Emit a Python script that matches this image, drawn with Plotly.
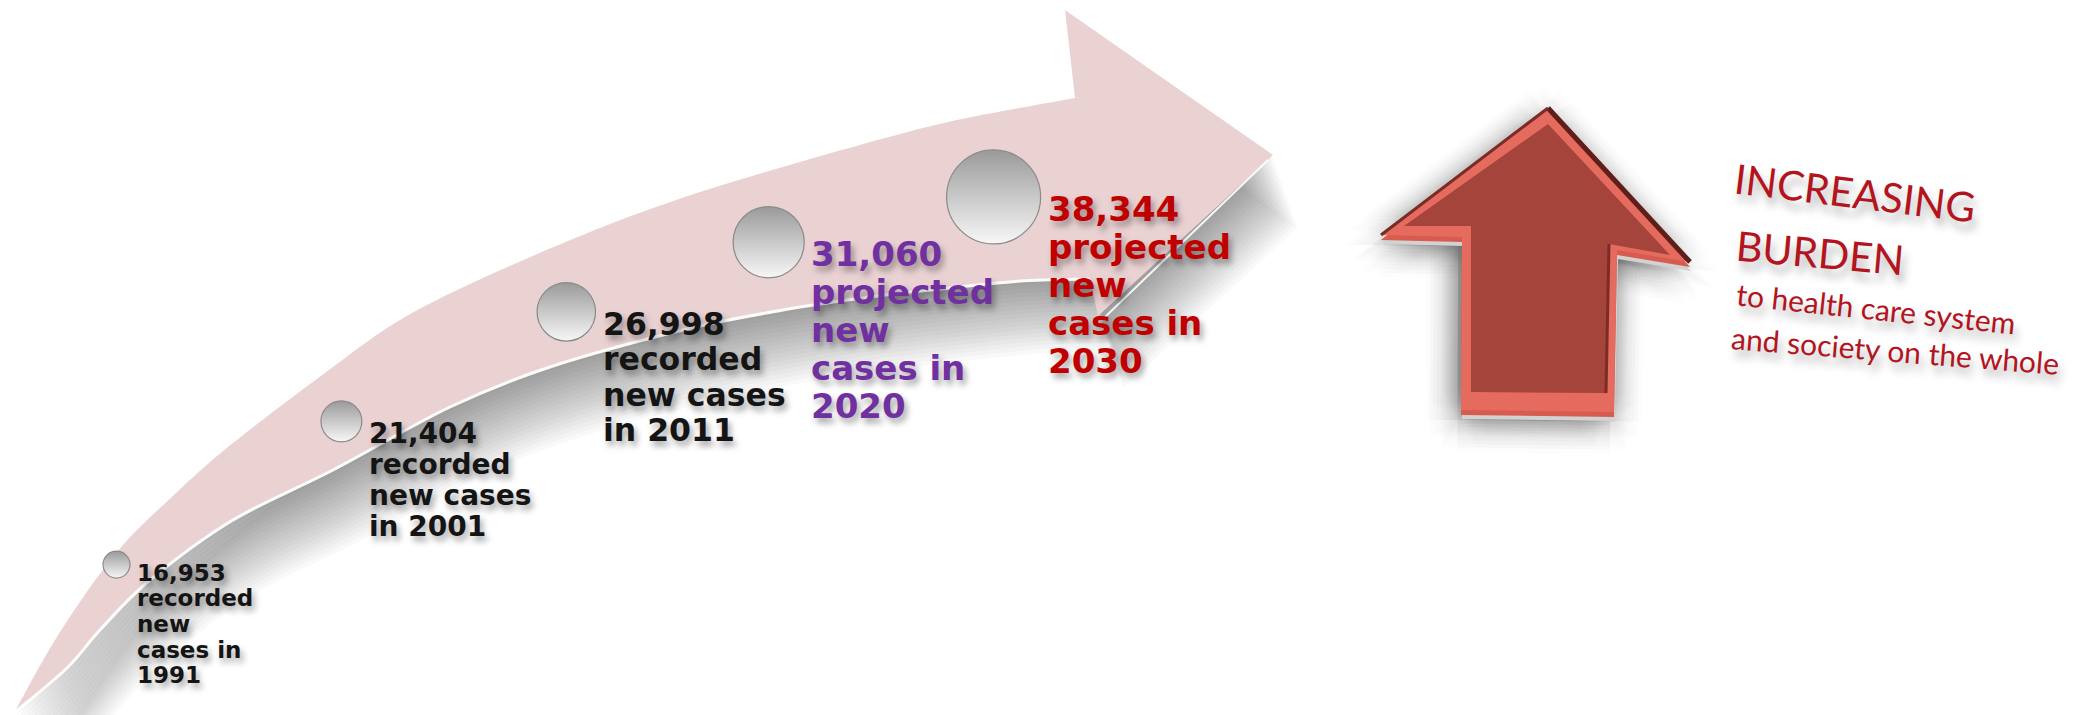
import math
import plotly.graph_objects as go

W, H = 2085, 715

# ---------------- data ----------------
years = [1991, 2001, 2011, 2020, 2030]
new_cases = [16953, 21404, 26998, 31060, 38344]
status = ["recorded", "recorded", "recorded", "projected", "projected"]
burden_title = ["INCREASING", "BURDEN"]
burden_lines = ["to health care system", "and society on the whole"]

# ---------------- style / layout ----------------
label_colors = ["#141414", "#141414", "#141414", "#7030A0", "#C00000"]
wrap_style = ["A", "B", "B", "A", "A"]
label_font = [23, 28, 31.5, 34, 34]
label_lead = [25.7, 31, 35.5, 38, 38]
label_drop = [8, 12, 12, 12, 12]
WRAPS = {
    "A": ["{n}", "{s}", "new", "cases in", "{y}"],
    "B": ["{n}", "{s}", "new cases", "in {y}"],
}
X_RANGE = [1985.82, 2078.53]      # year scale of the hidden x axis
Y_RANGE = [H, 0]                  # vertical layout axis (top = 0)
SIZE_MIN, SIZE_MAX = 27, 94       # bubble diameter range (px), scaled by new cases
LABEL_FONT = "DejaVu Sans"
SIDE_FONT = "Lato"
SIDE_COLOR = "#B3141D"
PINK = "#EAD2D3"


def P(x, y):
    return f"{x / W:.5f},{1 - y / H:.5f}"


def year_px(yr):
    return (yr - X_RANGE[0]) / (X_RANGE[1] - X_RANGE[0]) * W


def track_y(px):
    # vertical position of the track the bubbles ride on inside the arrow
    return 0.00033398 * px * px - 0.78999 * px + 652.1


def smooth(points):
    pts = [points[0]] + points + [points[-1]]
    segs = []
    for i in range(1, len(pts) - 2):
        p0, p1, p2, p3 = pts[i - 1], pts[i], pts[i + 1], pts[i + 2]
        c1 = (p1[0] + (p2[0] - p0[0]) / 6, p1[1] + (p2[1] - p0[1]) / 6)
        c2 = (p2[0] - (p3[0] - p1[0]) / 6, p2[1] - (p3[1] - p1[1]) / 6)
        segs.append(f"C {P(*c1)} {P(*c2)} {P(*p2)}")
    return " ".join(segs)


# big curved arrow outline (decoration)
TOP = [(14, 713), (60, 632), (117, 552), (175, 494), (233, 443), (333, 367),
       (400, 320), (483, 278), (600, 228), (700, 192), (800, 162), (900, 134),
       (967, 118), (1075, 98)]
HEAD = [(1065, 10), (1273, 155), (1098, 316)]
LOW = [(1090, 279), (1020, 281), (940, 289), (870, 297), (783, 310), (683, 330),
       (550, 367), (450, 407), (333, 470), (233, 520), (150, 580), (100, 630),
       (67, 668), (14, 713)]


def shift(pts, dx, dy):
    return [(x + dx, y + dy) for x, y in pts]


def curved_arrow_path(dx=0, dy=0):
    t, h, l = shift(TOP, dx, dy), shift(HEAD, dx, dy), shift(LOW, dx, dy)
    s = f"M {P(*t[0])} " + smooth(t)
    for p in h:
        s += f" L {P(*p)}"
    s += f" L {P(*l[0])} " + smooth(l)
    return s + " Z"


def poly_path(pts, dx=0, dy=0, close=True):
    pts = shift(pts, dx, dy)
    s = "M " + " L ".join(P(*p) for p in pts)
    return s + (" Z" if close else "")


# red up arrow (decoration)
UP_OUTER = [(1548, 108), (1690, 262), (1617, 250), (1614, 412), (1461, 410),
            (1462, 237), (1381, 235)]
UP_FACE = [(1548, 124), (1670, 255), (1609, 244), (1606, 393), (1471, 392),
           (1471, 226), (1404, 226)]


def shp(path, fill=None, line_color=None, lw=0):
    d = dict(type="path", path=path, xref="paper", yref="paper", layer="below",
             line=dict(width=lw, color=line_color) if lw else dict(width=0))
    if fill:
        d["fillcolor"] = fill
    return d


shapes = []
# soft shadow of the curved arrow
for k in range(1, 19):
    dy = 4 * k
    shapes.append(shp(curved_arrow_path(0.35 * dy, dy), fill="rgba(0,0,0,0.024)"))
shapes.append(shp(curved_arrow_path(), fill=PINK))
# light seam along lower edge
shapes.append(shp(f"M {P(*LOW[0])} " + smooth(LOW), line_color="rgba(255,255,255,0.95)", lw=3))
shapes.append(shp(poly_path([(1268, 160), (1104, 318)], close=False),
                  line_color="rgba(255,255,255,0.9)", lw=2))

# shadow of the red arrow
for r in range(4, 36, 4):
    for ang in range(12):
        dx = r * math.cos(ang * math.pi / 6) - 4
        dy = r * math.sin(ang * math.pi / 6) + 10
        shapes.append(shp(poly_path(UP_OUTER, dx, dy), fill="rgba(0,0,0,0.008)"))
shapes.append(shp(poly_path(UP_OUTER, 1, 9), fill="#d2d2d2"))
shapes.append(shp(poly_path(UP_OUTER, 0, 5), fill="#D85B50"))
shapes.append(shp(poly_path(UP_OUTER), fill="#E66B5F"))
shapes.append(shp(poly_path([UP_OUTER[0], UP_OUTER[1]], close=False), line_color="#5E1F1B", lw=5))
shapes.append(shp(poly_path([UP_OUTER[6], UP_OUTER[0]], close=False), line_color="#7A2B25", lw=3))
shapes.append(shp(poly_path(UP_FACE), fill="#A4443B"))
shapes.append(shp(poly_path([UP_FACE[2], UP_FACE[3]], close=False), line_color="#7C2C26", lw=3))

# ---------------- marks from data ----------------
cmin, cmax = min(new_cases), max(new_cases)
sizes = [SIZE_MIN + (c - cmin) / (cmax - cmin) * (SIZE_MAX - SIZE_MIN) for c in new_cases]
bubble_y = [track_y(year_px(yr)) for yr in years]

fig = go.Figure()
fig.add_trace(go.Scatter(
    x=years, y=bubble_y, mode="markers", hoverinfo="skip",
    marker=dict(size=sizes, color="#9a9a9a", opacity=1,
                gradient=dict(type="vertical", color="#f7f7f7"),
                line=dict(color="#8a8a8a", width=1.2)),
))

annotations = []
for i, (yr, c, st) in enumerate(zip(years, new_cases, status)):
    lines = [t.format(n=f"{c:,}", s=st, y=yr) for t in WRAPS[wrap_style[i]]]
    for j, line in enumerate(lines):
        annotations.append(dict(
            x=yr, y=bubble_y[i], xref="x", yref="y", text=f"<b>{line}</b>",
            showarrow=False, xanchor="left", yanchor="middle",
            xshift=sizes[i] / 2 + 5, yshift=-(label_drop[i] + j * label_lead[i]),
            font=dict(family=LABEL_FONT, size=label_font[i], color=label_colors[i],
                      shadow="3px 5px 6px rgba(0,0,0,0.35)"),
        ))

side = [
    (burden_title[0], 1855, 192, 41, 7),
    (burden_title[1], 1820, 252, 41, 5),
    (burden_lines[0], 1876, 308, 30, 6),
    (burden_lines[1], 1895, 350, 30, 4.5),
]
for text, cx, cy, fs, ang in side:
    annotations.append(dict(
        x=cx / W, y=1 - cy / H, xref="paper", yref="paper", text=text,
        showarrow=False, xanchor="center", yanchor="middle", textangle=ang,
        font=dict(family=SIDE_FONT, size=fs, color=SIDE_COLOR,
                  shadow="4px 8px 8px rgba(0,0,0,0.3)"),
    ))

fig.update_layout(
    width=W, height=H, margin=dict(l=0, r=0, t=0, b=0),
    paper_bgcolor="white", plot_bgcolor="white", showlegend=False,
    xaxis=dict(range=X_RANGE, visible=False, fixedrange=True),
    yaxis=dict(range=Y_RANGE, visible=False, fixedrange=True),
    shapes=shapes, annotations=annotations,
)

fig.write_html("out.html", config={"displayModeBar": False},
               post_script="document.body.style.margin='0';")
